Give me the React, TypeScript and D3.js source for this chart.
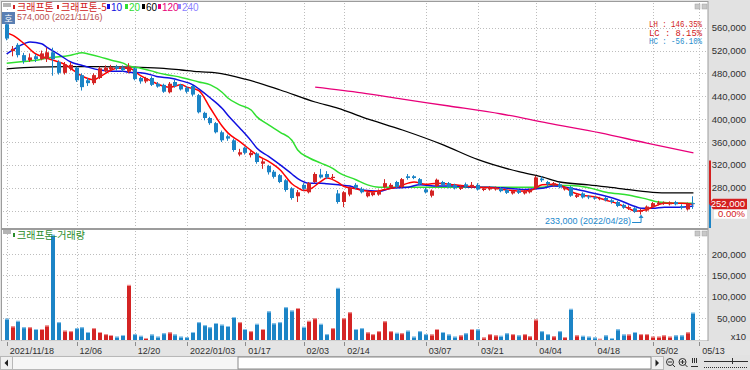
import React from 'react';
import * as d3 from 'd3';

// 크래프톤 daily candles, 2021/11/18 .. 2022/05/12, prices in thousand won
const opens = [566, 519, 530, 512, 503, 510, 505, 505, 517, 500, 481, 488, 490, 477, 468, 463, 472, 484, 487, 492,
  490, 483, 489, 472, 466, 472, 462, 460, 447, 465, 460, 455, 458, 442, 411, 402, 393, 377, 370, 363,
  338, 350, 337, 340, 322, 318, 308, 302, 293, 279, 265, 285, 272, 290, 303, 304, 297, 270, 255, 268,
  285, 278, 265, 267, 268, 281, 281, 290, 281, 300, 300, 295, 277, 266, 283, 290, 288, 285, 278, 286,
  281, 285, 276, 277, 277, 279, 276, 270, 275, 270, 272, 279, 296, 290, 284, 286, 277, 281, 264, 270,
  265, 263, 260, 262, 258, 255, 250, 244, 244, 238, 240, 246, 251, 252, 251, 255, 248, 242, 253];
const highs = [571, 528, 533, 516, 515, 514, 520, 525, 525, 503, 500, 500, 492, 480, 472, 480, 492, 494, 495, 495,
  494, 498, 491, 474, 474, 475, 465, 462, 465, 470, 462, 458, 460, 444, 413, 404, 395, 380, 373, 366,
  348, 352, 345, 342, 330, 320, 311, 304, 295, 281, 276, 288, 290, 307, 313, 309, 304, 276, 274, 282,
  288, 281, 275, 274, 277, 295, 288, 292, 297, 304, 302, 297, 280, 277, 296, 292, 290, 287, 285, 289,
  290, 288, 281, 283, 282, 281, 278, 276, 277, 276, 278, 301, 300, 292, 290, 289, 283, 283, 270, 272,
  267, 265, 264, 264, 260, 257, 252, 249, 246, 243, 249, 255, 257, 256, 256, 257, 251, 254, 265];
const lows = [538, 510, 508, 497, 500, 500, 503, 500, 476, 478, 478, 485, 465, 450, 458, 460, 470, 482, 485, 485,
  483, 480, 468, 462, 463, 458, 455, 446, 445, 455, 450, 445, 440, 410, 398, 390, 375, 360, 362, 343,
  335, 338, 333, 322, 313, 303, 296, 288, 273, 259, 255, 275, 270, 288, 296, 295, 294, 252, 246, 265,
  277, 270, 263, 265, 266, 279, 279, 279, 279, 294, 295, 284, 270, 263, 281, 283, 279, 277, 276, 280,
  279, 275, 274, 275, 275, 272, 269, 268, 269, 268, 270, 277, 290, 283, 282, 279, 275, 264, 262, 261,
  260, 259, 258, 256, 252, 246, 243, 241, 236, 233, 238, 245, 249, 250, 249, 249, 242, 240, 243];
const closes = [541, 523, 512, 502, 508, 505, 515, 517, 505, 481, 496, 495, 468, 456, 463, 477, 489, 490, 491, 488,
  486, 492, 470, 466, 472, 460, 457, 448, 462, 458, 452, 448, 443, 412, 402, 393, 377, 363, 366, 346,
  342, 341, 341, 325, 326, 307, 299, 290, 276, 262, 272, 278, 288, 304, 298, 298, 299, 255, 272, 280,
  280, 272, 272, 272, 274, 288, 285, 281, 295, 297, 297, 286, 272, 275, 294, 285, 281, 279, 282, 282,
  285, 277, 279, 280, 280, 274, 271, 274, 271, 274, 276, 298, 293, 286, 288, 281, 281, 266, 267, 263,
  263, 261, 262, 258, 255, 248, 245, 246, 238, 240, 247, 253, 254, 254, 254, 251, 245, 252, 252];
// volume as shown on the axis (x10 shares), in thousands
const volumes = [49, 31, 44, 29, 29, 25, 25, 33, 245, 41, 21, 20, 27, 29, 18, 27, 18, 13, 11, 7,
  11, 128, 13, 9, 4, 12, 7, 15, 17, 12, 7, 6, 18, 41, 34, 29, 39, 35, 32, 53,
  41, 25, 20, 37, 25, 66, 38, 41, 76, 68, 74, 30, 44, 50, 37, 13, 27, 121, 50, 64,
  25, 27, 17, 13, 20, 43, 20, 16, 15, 21, 7, 20, 13, 12, 25, 18, 12, 7, 10, 15,
  25, 24, 5, 13, 10, 9, 15, 13, 10, 13, 8, 47, 20, 13, 8, 20, 6, 72, 10, 9,
  7, 5, 2, 10, 4, 24, 12, 12, 18, 13, 13, 7, 7, 10, 7, 10, 10, 17, 63];

// moving averages: [day index, value]
const ma5 = [[0, 551], [1, 547], [3, 532], [5, 514], [6, 510], [8, 503], [10, 496], [11, 489], [13, 475], [15, 469],
  [16, 474], [18, 486], [19, 489], [21, 489], [23, 476], [25, 466], [26, 461], [28, 456], [30, 460], [31, 456],
  [33, 450], [35, 419], [37, 388], [38, 376], [40, 361], [42, 345], [43, 337], [45, 326], [47, 311], [49, 287],
  [50, 280], [51, 275], [52, 277], [54, 291], [55, 297], [57, 289], [58, 282], [60, 278], [63, 273], [65, 277],
  [67, 281], [69, 288], [70, 290], [72, 286], [74, 288], [77, 285], [79, 283], [81, 281], [84, 279], [86, 276],
  [88, 274], [90, 275], [92, 285], [94, 286], [96, 280], [97, 273], [99, 267], [101, 264], [103, 258], [105, 252],
  [107, 243], [108, 239], [110, 242], [111, 246], [113, 253], [115, 253], [116, 253], [118, 251]];
const ma10 = [[0, 514], [2, 527], [4, 535], [6, 532], [7, 525], [9, 513], [11, 500], [13, 494], [14, 491], [16, 486],
  [18, 484], [20, 484], [21, 482], [23, 481], [25, 477], [26, 474], [28, 472], [30, 467], [32, 460], [33, 453],
  [35, 437], [37, 419], [38, 407], [40, 385], [42, 362], [43, 349], [45, 335], [47, 320], [49, 304], [50, 296],
  [52, 288], [54, 288], [55, 287], [57, 285], [59, 283], [61, 276], [64, 274], [66, 279], [69, 281], [71, 285],
  [74, 283], [77, 283], [80, 281], [83, 281], [86, 279], [89, 277], [92, 279], [94, 283], [96, 281], [98, 277],
  [101, 270], [103, 265], [105, 259], [108, 247], [109, 244], [111, 244], [113, 246], [116, 246], [118, 248]];
const ma20 = [[0, 498], [2, 500], [5, 503], [7, 507], [9, 509], [11, 512], [13, 516], [14, 514], [16, 509], [18, 503],
  [20, 498], [21, 493], [23, 489], [25, 484], [26, 481], [28, 477], [30, 473], [33, 465], [35, 460], [37, 447],
  [38, 437], [40, 425], [42, 416], [43, 404], [45, 390], [47, 377], [49, 363], [50, 346], [52, 332], [54, 323],
  [56, 314], [57, 307], [60, 294], [62, 285], [64, 281], [68, 281], [75, 281], [81, 281], [88, 281], [92, 281],
  [94, 284], [97, 284], [100, 280], [103, 272], [107, 267], [110, 260], [112, 255], [115, 253], [118, 253]];
const ma60 = [[0, 488], [5, 491], [10, 492], [16, 492], [22, 491], [27, 489], [30, 486], [33, 483], [36, 481], [41, 470],
  [47, 451], [53, 430], [57, 419], [61, 404], [68, 381], [75, 355], [81, 329], [88, 308], [92, 299], [95, 290],
  [100, 285], [105, 279], [111, 272], [114, 271], [118, 271]];
const ma120 = [[53, 456], [61, 446], [68, 435], [76, 423], [85, 409], [93, 393], [102, 376], [110, 358], [118, 341]];

const tickIndex = [0, 12, 22, 31, 41, 51, 58, 72, 81, 91, 101, 111, 119];
const tickLabels = ['2021/11/18', '12/06', '12/20', '2022/01/03', '01/17', '02/03', '02/14', '03/07', '03/21', '04/04', '04/18', '05/02', '05/13'];
const priceTicks = [240, 280, 320, 360, 400, 440, 480, 520, 560];
const volumeTicks = [50, 100, 150, 200];

const legendItems = ['10', '20', '60', '120', '240'];
const legendColors = ['#1010e0', '#30e030', '#000000', '#e8007a', '#8c82ff'];

const highPrice = 574;
const lowPrice = 233;
const lastPrice = 252;
const upperLimit = 327.5;

const UP = '#d42424';
const DOWN = '#1c84c6';
const SANS = "'Liberation Sans', Arial, sans-serif";
const KOR = "'Noto Sans CJK KR', 'Noto Sans', sans-serif";
const MONO = "'Liberation Mono', 'DejaVu Sans Mono', monospace";

const x = d3.scaleLinear().domain([-0.5, 120.5]).range([3.8, 708]);
const yP = d3.scaleLinear().domain([209.5, 605]).range([228, 2]);
const yV = d3.scaleLinear().domain([0, 257]).range([339.7, 229.7]);
const fmt = d3.format(',');

const maLine = d3.line<number[]>()
  .x((d) => x(d[0]))
  .y((d) => yP(d[1]))
  .curve(d3.curveMonotoneX);

const maSeries = [
  { data: ma120, color: '#e8007a', w: 1.3 },
  { data: ma60, color: '#000000', w: 1.3 },
  { data: ma20, color: '#30e030', w: 1.5 },
  { data: ma10, color: '#1010e0', w: 1.5 },
  { data: ma5, color: '#ff0000', w: 1.5 },
];

const Candles = () => (
  <g>
    {opens.map((o, i) => {
      const c = closes[i];
      const col = c >= o ? UP : DOWN;
      const cx = Math.round(x(i));
      const top = yP(Math.max(o, c));
      const bot = yP(Math.min(o, c));
      return (
        <g key={i}>
          <line x1={cx - 0.5} x2={cx - 0.5} y1={yP(highs[i])} y2={yP(lows[i])} stroke={col} strokeWidth={1} />
          <rect x={cx - 2} y={top} width={4} height={Math.max(1, bot - top)} fill={col} />
        </g>
      );
    })}
  </g>
);

const VolumeBars = () => (
  <g>
    {volumes.map((v, i) => {
      const up = closes[i] >= opens[i];
      const cx = Math.round(x(i));
      const top = yV(v);
      return (
        <g key={i}>
          <rect x={cx - 2} y={top} width={4} height={340 - top} fill={up ? UP : DOWN} />
          <rect x={cx - 2} y={top} width={4} height={1} fill={up ? '#f09a9a' : '#8cc6ec'} />
        </g>
      );
    })}
  </g>
);

const PanelButtons = ({ y }: { y: number }) => (
  <g>
    <rect x={3} y={y} width={8} height={4} fill="#b4b4b4" />
    <rect x={695} y={y + 1} width={5} height={5} fill="#c8c8c8" stroke="#a0a0a0" strokeWidth={0.5} />
    <rect x={702} y={y + 1} width={5} height={5} fill="#c8c8c8" stroke="#a0a0a0" strokeWidth={0.5} />
  </g>
);

export default function App() {
  const lowX = x(lows.indexOf(lowPrice));
  const lastY = yP(lastPrice);
  // the 240,000 label sits under the current price box, so it is not shown
  const labelTicks = priceTicks.filter((p) => p >= 280);
  return (
    <svg width={750} height={370} viewBox="0 0 750 370" fontFamily={SANS}
      style={{ position: 'absolute', left: 0, top: 0, display: 'block' }}>
      <defs>
        <clipPath id="mainClip"><rect x={2} y={2} width={706} height={226} /></clipPath>
        <clipPath id="volClip"><rect x={2} y={230} width={706} height={111} /></clipPath>
      </defs>
      <rect x={0} y={0} width={750} height={370} fill="#e2e2e2" />

      {/* panels */}
      <rect x={1.5} y={1.5} width={706.5} height={227} fill="#ffffff" stroke="#9c9c9c" />
      <rect x={1.5} y={229.5} width={706.5} height={111.5} fill="#ffffff" stroke="#9c9c9c" />

      {/* grid */}
      <g stroke="#bdbdbd" strokeDasharray="1,2" strokeWidth={1}>
        {priceTicks.map((p) => (
          <line key={p} x1={3} x2={707} y1={Math.round(yP(p)) + 0.5} y2={Math.round(yP(p)) + 0.5} />
        ))}
        {volumeTicks.map((v) => (
          <line key={v} x1={3} x2={707} y1={Math.round(yV(v)) + 0.5} y2={Math.round(yV(v)) + 0.5} />
        ))}
        {tickIndex.map((t) => (
          <g key={t}>
            <line x1={Math.round(x(t)) + 0.5} x2={Math.round(x(t)) + 0.5} y1={3} y2={227} />
            <line x1={Math.round(x(t)) + 0.5} x2={Math.round(x(t)) + 0.5} y1={231} y2={340} />
          </g>
        ))}
      </g>

      {/* price panel */}
      <g clipPath="url(#mainClip)">
        {maSeries.map((s, k) => (
          <path key={k} d={maLine(s.data) || ''} fill="none" stroke={s.color} strokeWidth={s.w} />
        ))}
        <Candles />
      </g>

      <PanelButtons y={3} />
      <rect x={2} y={12} width={13} height={12} fill="#5a7fb3" />
      <text x={8.5} y={21.5} fontFamily={KOR} fontSize={9} fill="#ffffff" textAnchor="middle">호</text>

      <text x={17} y={20} fontSize={9} fill="#b03030" opacity={0.85}>
        {fmt(highPrice * 1000)} (2021/11/16)
      </text>
      <g>
        <rect x={13} y={5} width={2} height={4} fill="#d02020" />
        <text x={17} y={10.5} fontFamily={KOR} fontSize={10} fill="#d02020">크래프톤</text>
        <rect x={57} y={5} width={2} height={4} fill="#d02020" />
        <text x={61} y={10.5} fontFamily={KOR} fontSize={10} fill="#d02020">크래프톤-5</text>
        {legendItems.map((lab, k) => {
          const lx = [107, 125, 142, 158, 178][k];
          return (
            <g key={lab}>
              <rect x={lx} y={4} width={3} height={5} fill={legendColors[k]} />
              <text x={lx + 4} y={10.5} fontSize={10} fill={legendColors[k]}>{lab}</text>
            </g>
          );
        })}
      </g>

      <g fontFamily={MONO} fontSize={8.5} textAnchor="end" style={{ whiteSpace: 'pre' }}>
        <text x={702} y={27} fill="#d01818" textLength={53} lengthAdjust="spacingAndGlyphs">LH : 146.35%</text>
        <text x={702} y={35.5} fill="#d01818" textLength={53} lengthAdjust="spacingAndGlyphs">LC :   8.15%</text>
        <text x={702} y={44} fill="#1f8ccc" textLength={53} lengthAdjust="spacingAndGlyphs">HC : -56.10%</text>
      </g>

      {/* lowest price marker */}
      <text x={lowX - 10} y={223.8} fontSize={9} fill="#2288cc" textAnchor="end">
        {fmt(lowPrice * 1000)} (2022/04/28)
      </text>
      <path d={`M${lowX - 9},222.5 H${lowX} V216.5`} fill="none" stroke="#2288cc" strokeWidth={1} />
      <path d={`M${lowX - 2.5},218 L${lowX},214.5 L${lowX + 2.5},218 Z`} fill="#2288cc" />

      {/* volume panel */}
      <g clipPath="url(#volClip)">
        <VolumeBars />
      </g>
      <PanelButtons y={230} />
      <rect x={13} y={233} width={2} height={4} fill="#2a8c2a" />
      <text x={17} y={239} fontFamily={KOR} fontSize={10} fill="#2a8c2a">크래프톤-거래량</text>

      {/* right axis */}
      <g fontSize={9.5} fill="#303030" textAnchor="end">
        {labelTicks.map((p) => (
          <text key={p} x={746} y={yP(p) + 3.5}>{fmt(p * 1000)}</text>
        ))}
        {volumeTicks.map((v) => (
          <text key={v} x={746} y={yV(v) + 3.5}>{fmt(v * 1000)}</text>
        ))}
        <text x={746} y={339.5}>x10</text>
      </g>

      {/* price limit bar and current price */}
      <line x1={710} x2={710} y1={yP(upperLimit)} y2={lastY} stroke="#d42020" strokeWidth={2} />
      <line x1={710} x2={710} y1={lastY} y2={228} stroke="#1c84c6" strokeWidth={2} />
      <path d={`M709,${lastY} L713,${lastY - 5} H747 V${lastY + 5.5} H713 Z`} fill="#d42020" />
      <text x={745} y={lastY + 3.5} fontSize={9.5} fill="#ffffff" textAnchor="end">{fmt(lastPrice * 1000)}</text>
      <rect x={714} y={lastY + 6} width={33} height={9} fill="#ffffff" />
      <text x={745} y={lastY + 13.5} fontSize={9.5} fill="#d42020" textAnchor="end">0.00%</text>

      {/* date axis */}
      <rect x={0} y={341} width={750} height={14} fill="#e4e4e4" />
      <g>
        {tickIndex.map((t, k) => (
          <g key={t}>
            <line x1={Math.round(x(t)) + 0.5} x2={Math.round(x(t)) + 0.5} y1={342} y2={346} stroke="#8c8c8c" />
            <text x={x(t) + 3} y={353.5} fontSize={9} fill="#303030">{tickLabels[k]}</text>
          </g>
        ))}
      </g>

      {/* scroll bar and zoom controls */}
      <rect x={0.5} y={356.5} width={663} height={13} fill="#f6f6f6" stroke="#b8b8b8" />
      <rect x={0.5} y={356.5} width={12} height={13} fill="#f0f0f0" stroke="#b8b8b8" />
      <path d="M4.5,363 L8,359.5 V366.5 Z" fill="#202020" />
      <rect x={238} y={357} width={413} height={12} fill="#ffffff" stroke="#8a8a8a" strokeWidth={1} />
      <rect x={651.5} y={356.5} width={12} height={13} fill="#f0f0f0" stroke="#b8b8b8" />
      <path d="M659,363 L655.5,359.5 V366.5 Z" fill="#202020" />
      <g fill="none" stroke="#303030" strokeWidth={1}>
        <circle cx={670} cy={362} r={3.5} />
        <line x1={668} x2={672} y1={362} y2={362} />
        <line x1={672.5} x2={675} y1={364.5} y2={367} />
        <circle cx={682.5} cy={362} r={3.5} />
        <line x1={680.5} x2={684.5} y1={362} y2={362} />
        <line x1={682.5} x2={682.5} y1={360} y2={364} />
        <line x1={685} x2={687.5} y1={364.5} y2={367} />
        <line x1={692.5} x2={692.5} y1={358} y2={363} />
        <line x1={694.5} x2={694.5} y1={358} y2={363} />
        <line x1={696.5} x2={696.5} y1={358} y2={363} />
        <line x1={691} x2={698} y1={366.5} y2={366.5} />
        <line x1={704} x2={748} y1={361.5} y2={361.5} />
        <line x1={732.5} x2={732.5} y1={358} y2={364} />
        <line x1={704} x2={748} y1={367.5} y2={367.5} strokeDasharray="1,1" />
      </g>
    </svg>
  );
}
